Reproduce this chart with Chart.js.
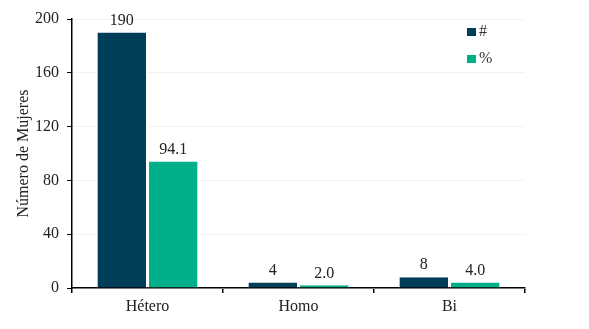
<!DOCTYPE html>
<html>
<head>
<meta charset="utf-8">
<script src="https://cdn.jsdelivr.net/npm/chart.js@4.4.1/dist/chart.umd.min.js"></script>
<style>
  html, body { margin: 0; padding: 0; background: #fff; }
  #wrap { width: 589px; height: 329px; }
</style>
</head>
<body>
<div id="wrap"><canvas id="chart"></canvas></div>
<script>
const categories = ["Hétero", "Homo", "Bi"];
const countValues = [190, 4, 8];
const percentValues = [94.1, 2.0, 4.0];
const yTicks = [0, 40, 80, 120, 160, 200];

const FONT = "'Liberation Serif', 'DejaVu Serif', serif";
const DARK = "#003d58";
const GREEN = "#00b08a";

// value labels over each bar
const barLabels = {
  id: "barLabels",
  afterDatasetsDraw(chart) {
    const ctx = chart.ctx;
    ctx.save();
    ctx.font = "16px " + FONT;
    ctx.fillStyle = "#222";
    ctx.textAlign = "center";
    ctx.textBaseline = "bottom";
    chart.data.datasets.forEach((ds, i) => {
      chart.getDatasetMeta(i).data.forEach((bar, j) => {
        const v = ds.data[j];
        const txt = i === 1 ? v.toFixed(1) : String(v);
        ctx.fillText(txt, bar.x, bar.y - 4);
      });
    });
    ctx.restore();
  },
};

// small legend inside the plot, top right
const sideLegend = {
  id: "sideLegend",
  afterDraw(chart) {
    const ctx = chart.ctx;
    const x = chart.chartArea.right - 58;
    ctx.save();
    ctx.font = "16px " + FONT;
    ctx.textBaseline = "middle";
    chart.data.datasets.forEach((ds, i) => {
      const y = chart.chartArea.top + 13 + i * 27;
      ctx.fillStyle = ds.backgroundColor;
      ctx.fillRect(x, y - 4, 9, 8);
      ctx.fillStyle = "#333";
      ctx.fillText(ds.label, x + 12, y);
    });
    ctx.restore();
  },
};

new Chart(document.getElementById("chart"), {
  type: "bar",
  data: {
    labels: categories,
    datasets: [
      { label: "#", data: countValues, backgroundColor: DARK, borderColor: "#fff", borderWidth: { left: 1, right: 1 } },
      { label: "%", data: percentValues, backgroundColor: GREEN, borderColor: "#fff", borderWidth: { left: 1, right: 1 } },
    ],
  },
  options: {
    responsive: true,
    maintainAspectRatio: false,
    animation: false,
    devicePixelRatio: 1,
    layout: { padding: { top: 19, right: 64, left: 12, bottom: 0 } },
    categoryPercentage: 0.68,
    barPercentage: 0.98,
    plugins: {
      legend: { display: false },
      tooltip: { enabled: false },
    },
    scales: {
      x: {
        grid: { drawOnChartArea: false, tickColor: "#000", tickLength: 5, lineWidth: 1.5 },
        border: { color: "#000", width: 1.5 },
        ticks: { color: "#222", font: { family: FONT, size: 16 }, padding: 4 },
        afterFit(scale) { scale.height = 41; },
      },
      y: {
        min: 0,
        max: 200,
        afterBuildTicks(scale) { scale.ticks = yTicks.map((v) => ({ value: v })); },
        grid: { color: "#f2f2f2", tickColor: "#000", tickLength: 5, lineWidth: 1 },
        border: { color: "#000", width: 1.5 },
        ticks: { color: "#222", font: { family: FONT, size: 16 }, padding: 8 },
        title: { display: true, text: "Número de Mujeres", color: "#222", font: { family: FONT, size: 16 }, padding: 2 },
        afterFit(scale) { scale.width = 60; },
      },
    },
  },
  plugins: [barLabels, sideLegend],
});
</script>
</body>
</html>
